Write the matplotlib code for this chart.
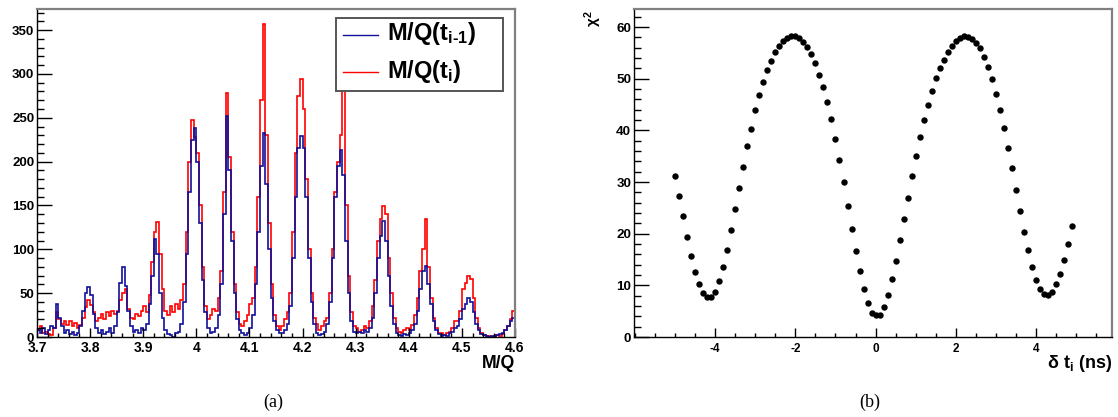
import matplotlib
matplotlib.use('Agg')
import matplotlib.pyplot as plt
from matplotlib.patches import Rectangle
from matplotlib.ticker import MultipleLocator, FuncFormatter
import numpy as np

plt.rcParams['font.family'] = ['Liberation Sans', 'DejaVu Sans']
plt.rcParams['font.weight'] = 'bold'
plt.rcParams['mathtext.fontset'] = 'custom'
plt.rcParams['mathtext.rm'] = 'Liberation Sans:bold'
plt.rcParams['mathtext.bf'] = 'Liberation Sans:bold'
plt.rcParams['mathtext.it'] = 'Liberation Sans:bold'

# --- data (a): M/Q histograms, bins of 0.005 from 3.7 to 4.6 ---
mq_edges = np.linspace(3.7, 4.6, 181)

mq_prev = [  # M/Q(t_{i-1}), blue
    8, 5, 10, 3, 8, 12, 10, 38, 22, 12, 5, 8, 3, 6, 2, 5, 12, 30, 50, 57,
    48, 26, 10, 4, 8, 3, 6, 10, 5, 12, 28, 62, 80, 58, 30, 12, 6, 8, 5, 10,
    8, 15, 38, 70, 112, 95, 50, 22, 8, 3, 2, 0, 4, 6, 15, 40, 95, 165, 225, 238,
    200, 130, 65, 28, 10, 4, 6, 10, 25, 60, 140, 252, 190, 110, 50, 20, 8, 4, 2, 5,
    10, 25, 60, 120, 195, 233, 175, 100, 45, 18, 8, 4, 5, 8, 15, 35, 90, 160, 215, 229,
    215, 160, 90, 40, 15, 5, 2, 3, 6, 15, 40, 90, 160, 195, 213, 185, 110, 50, 18, 6,
    4, 6, 5, 8, 6, 10, 22, 50, 90, 115, 132, 110, 70, 35, 15, 5, 2, 1, 3, 2,
    4, 8, 15, 30, 55, 75, 81, 60, 38, 18, 8, 3, 1, 2, 1, 4, 6, 10, 12, 20,
    32, 38, 45, 40, 28, 15, 8, 3, 2, 1, 0, 1, 0, 2, 3, 5, 8, 12, 18, 22,
]
mq_curr = [  # M/Q(t_i), red
    8, 12, 4, 6, 3, 2, 10, 28, 20, 15, 18, 14, 18, 12, 16, 10, 14, 22, 34, 42,
    36, 28, 18, 22, 26, 20, 28, 24, 30, 26, 30, 42, 50, 55, 32, 22, 20, 26, 24, 30,
    35, 28, 48, 85, 120, 131, 95, 55, 30, 25, 35, 28, 38, 32, 42, 60, 120, 200, 247, 228,
    210, 150, 80, 35, 20, 25, 32, 30, 45, 75, 165, 278, 205, 120, 60, 28, 15, 12, 18, 25,
    38, 45, 80, 160, 270, 357, 230, 130, 60, 25, 12, 8, 12, 20, 28, 50, 120, 210, 275, 294,
    260, 180, 100, 50, 22, 15, 8, 12, 18, 22, 50, 100, 165, 200, 230, 290, 150, 70, 28, 12,
    10, 6, 8, 12, 10, 18, 35, 65, 110, 135, 149, 140, 90, 50, 22, 10, 6, 4, 8, 10,
    8, 14, 25, 45, 75, 100, 134, 80, 45, 22, 10, 5, 4, 2, 4, 6, 10, 18, 18, 30,
    55, 62, 70, 66, 45, 22, 10, 5, 2, 1, 1, 0, 1, 2, 1, 3, 8, 12, 20, 30,
]

# --- data (b): chi^2 scan vs time shift ---
dt = np.round(np.arange(-50, 50) * 0.1, 1)
chi2 = [
    31.2, 27.3, 23.4, 19.4, 15.7, 12.6, 10.2, 8.5, 7.7, 7.8,
    8.8, 10.8, 13.6, 16.8, 20.7, 24.8, 28.9, 33.0, 37.0, 40.3,
    43.9, 46.8, 49.4, 51.7, 53.5, 55.1, 56.3, 57.3, 57.9, 58.2,
    58.2, 57.9, 57.2, 56.1, 54.8, 53.0, 50.8, 48.4, 45.5, 42.3,
    38.4, 34.3, 30.0, 25.4, 21.0, 16.6, 12.8, 9.2, 6.6, 4.7,
    4.2, 4.3, 5.9, 8.1, 11.2, 14.8, 18.8, 22.8, 27.0, 31.1,
    35.1, 38.8, 42.0, 45.0, 47.6, 50.1, 52.1, 53.7, 55.2, 56.4,
    57.3, 57.9, 58.3, 58.1, 57.7, 57.0, 55.9, 54.2, 52.3, 49.9,
    47.0, 43.9, 40.5, 36.6, 32.7, 28.5, 24.3, 20.4, 16.8, 13.5,
    11.0, 9.2, 8.3, 8.1, 8.8, 10.2, 12.2, 15.0, 18.1, 21.5,
]
dt_ticks = [-4, -2, 0, 2, 4]

blue = '#10109a'
red = '#ff0000'
fmt = FuncFormatter(lambda v, p: f'{v:g}')

fig = plt.figure(figsize=(11.18, 4.17), dpi=100)
fig.patch.set_facecolor('white')


def root_frame(ax):
    for s in ('top', 'right'):
        ax.spines[s].set_color('#808080')
        ax.spines[s].set_linewidth(1.6)
    for s in ('left', 'bottom'):
        ax.spines[s].set_color('black')
        ax.spines[s].set_linewidth(1.0)
    ax.tick_params(which='both', direction='in', top=False, right=False)
    ax.tick_params(axis='y', which='major', length=10.5, width=1.0)
    ax.tick_params(axis='y', which='minor', length=5, width=1.0)
    ax.tick_params(axis='x', which='major', length=6.5, width=1.0)
    ax.tick_params(axis='x', which='minor', length=3, width=1.0)
    ax.xaxis.set_major_formatter(fmt)
    ax.yaxis.set_major_formatter(fmt)


# ---- panel (a) ----
ax1 = fig.add_axes([37 / 1118, 1 - 337 / 417, 478 / 1118, 328 / 417])
ax1.stairs(mq_curr, mq_edges, color=red, lw=1.2)
ax1.stairs(mq_prev, mq_edges, color=blue, lw=1.2)
ax1.set_xlim(3.7, 4.6)
ax1.set_ylim(0, 374)
root_frame(ax1)
ax1.xaxis.set_major_locator(MultipleLocator(0.1))
ax1.xaxis.set_minor_locator(MultipleLocator(0.02))
ax1.yaxis.set_major_locator(MultipleLocator(50))
ax1.yaxis.set_minor_locator(MultipleLocator(10))
ax1.tick_params(axis='x', labelsize=10, pad=3)
ax1.tick_params(axis='y', labelsize=9.5, pad=2)
ax1.text(1.0, -0.082, 'M/Q', transform=ax1.transAxes, ha='right', va='center',
         fontsize=12.7, fontweight='bold')

# legend drawn by hand, ROOT-like box
ax1.add_patch(Rectangle((0.6255, 0.75), 0.3495, 0.2226, transform=ax1.transAxes,
                        facecolor='white', edgecolor='#555555', lw=1.4, zorder=5))
ax1.plot([0.640, 0.713], [0.921, 0.921], color=blue, lw=1.0,
         transform=ax1.transAxes, zorder=6)
ax1.plot([0.640, 0.713], [0.808, 0.808], color=red, lw=1.0,
         transform=ax1.transAxes, zorder=6)
ax1.text(0.732, 0.905, r'$\mathbf{M/Q(t}_{\text{i-1}}\mathbf{)}$', transform=ax1.transAxes,
         ha='left', va='baseline', fontsize=17, zorder=7)
ax1.text(0.732, 0.79, r'$\mathbf{M/Q(t}_{\text{i}}\mathbf{)}$', transform=ax1.transAxes,
         ha='left', va='baseline', fontsize=17, zorder=7)

# ---- panel (b) ----
ax2 = fig.add_axes([634 / 1118, 1 - 337 / 417, 478 / 1118, 328 / 417])
ax2.plot(dt, chi2, 'o', color='black', ms=4.6, mew=0)
ax2.set_xlim(-6.02, 5.89)
ax2.set_ylim(0, 63.5)
root_frame(ax2)
ax2.set_xticks(dt_ticks)
ax2.xaxis.set_minor_locator(MultipleLocator(0.5))
ax2.yaxis.set_major_locator(MultipleLocator(10))
ax2.yaxis.set_minor_locator(MultipleLocator(2))
ax2.tick_params(axis='x', labelsize=8.5, pad=4)
ax2.tick_params(axis='y', labelsize=9.7, pad=2)
ax2.text(1.0, -0.082, r'$\delta\ t_{i}$ (ns)', transform=ax2.transAxes,
         ha='right', va='center', fontsize=13, fontweight='bold')
ax2.text(-0.086, 0.97, r'$\chi^{2}$', transform=ax2.transAxes, rotation=90,
         ha='center', va='center', fontsize=11)

# captions
fig.text(273 / 1118, 1 - 402 / 417, '(a)', ha='center', va='center',
         family='Liberation Serif', fontweight='normal', fontsize=13)
fig.text(870 / 1118, 1 - 402 / 417, '(b)', ha='center', va='center',
         family='Liberation Serif', fontweight='normal', fontsize=13)

fig.savefig('out.png', dpi=100, facecolor='white')
